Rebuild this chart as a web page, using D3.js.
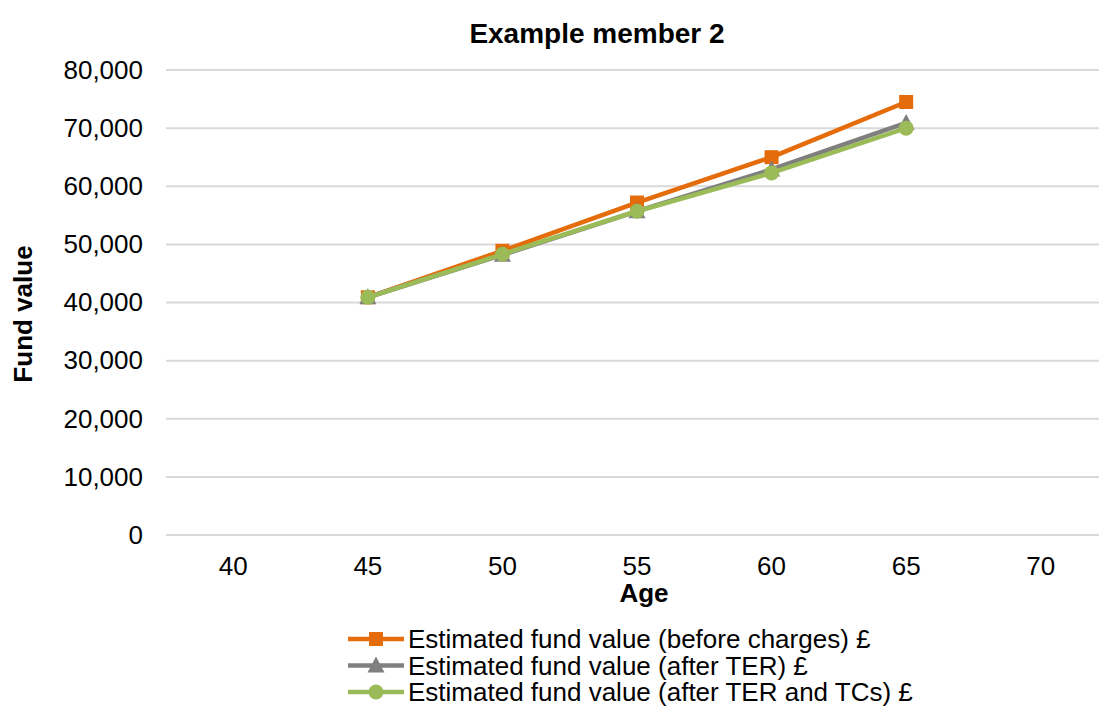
<!DOCTYPE html>
<html>
<head>
<meta charset="utf-8">
<script src="https://cdn.jsdelivr.net/npm/d3@7"></script>
<style>
  body { margin: 0; background: #fff; }
  svg { display: block; font-family: "Liberation Sans", Arial, sans-serif; }
</style>
</head>
<body>
<svg id="chart" width="1099" height="709"></svg>
<script>
// ages on the category axis
const ages = [40, 45, 50, 55, 60, 65, 70];
const dataAges = [45, 50, 55, 60, 65];
const yTicks = [0, 10000, 20000, 30000, 40000, 50000, 60000, 70000, 80000];

// series values
const beforeCharges = [40900, 48900, 57200, 65000, 74500];
const afterTER = [40900, 48200, 55700, 62900, 70900];
const afterTERandTCs = [40900, 48300, 55700, 62300, 70000];

const seriesNames = [
    'Estimated fund value (before charges) £',
    'Estimated fund value (after TER) £',
    'Estimated fund value (after TER and TCs) £'
];

let series = [
    {name: seriesNames[0], values: beforeCharges, color: '#E46C0A', marker: 'square'},
    {name: seriesNames[1], values: afterTER, color: '#7F7F7F', marker: 'triangle'},
    {name: seriesNames[2], values: afterTERandTCs, color: '#9BBB59', marker: 'circle'}
];

let svg = d3.select('#chart');

let plot = {left: 166, right: 1108, top: 70, bottom: 535};

let xScale = d3.scaleBand().domain(ages).range([plot.left, plot.right]);
let yScale = d3.scaleLinear().domain([0, 80000]).range([plot.bottom, plot.top]);
let xc = a => xScale(a) + xScale.bandwidth() / 2;

// gridlines
svg.append('g')
    .selectAll('line')
    .data(yTicks)
    .enter().append('line')
    .attr('x1', plot.left)
    .attr('x2', plot.right)
    .attr('y1', d => yScale(d))
    .attr('y2', d => yScale(d))
    .attr('stroke', '#D9D9D9')
    .attr('stroke-width', 2);

// y axis labels
let yAxis = d3.axisLeft(yScale).tickValues(yTicks).tickFormat(d3.format(',')).tickSize(0).tickPadding(0);
let yg = svg.append('g')
    .attr('transform', `translate(143,0)`)
    .call(yAxis);
yg.select('.domain').remove();
yg.selectAll('text')
    .attr('font-size', 26)
    .attr('fill', '#000')
    .attr('font-family', '"Liberation Sans", Arial, sans-serif');

// x axis labels
let xAxis = d3.axisBottom(xScale).tickSize(0).tickPadding(0);
let xg = svg.append('g')
    .attr('transform', `translate(0,${plot.bottom})`)
    .call(xAxis);
xg.select('.domain').remove();
xg.selectAll('text')
    .attr('y', 0)
    .attr('dy', 40)
    .attr('font-size', 26)
    .attr('fill', '#000')
    .attr('font-family', '"Liberation Sans", Arial, sans-serif');

// titles
svg.append('text')
    .attr('x', 597)
    .attr('y', 43)
    .attr('text-anchor', 'middle')
    .attr('font-size', 28)
    .attr('font-weight', 'bold')
    .text('Example member 2');

svg.append('text')
    .attr('x', 644)
    .attr('y', 602)
    .attr('text-anchor', 'middle')
    .attr('font-size', 26)
    .attr('font-weight', 'bold')
    .text('Age');

svg.append('text')
    .attr('transform', 'translate(32,314) rotate(-90)')
    .attr('text-anchor', 'middle')
    .attr('font-size', 26)
    .attr('font-weight', 'bold')
    .text('Fund value');

function drawMarker(g, type, x, y, color) {
    if (type === 'square') {
        g.append('rect')
            .attr('x', x - 7).attr('y', y - 7)
            .attr('width', 14).attr('height', 14)
            .attr('fill', color);
    } else if (type === 'triangle') {
        g.append('path')
            .attr('d', `M${x},${y - 9} L${x + 8.5},${y + 7} L${x - 8.5},${y + 7} Z`)
            .attr('fill', color);
    } else {
        g.append('circle')
            .attr('cx', x).attr('cy', y).attr('r', 7.5)
            .attr('fill', color);
    }
}

let line = d3.line()
    .x(d => xc(d.age))
    .y(d => yScale(d.value));

series.forEach(s => {
    let pts = dataAges.map((a, i) => ({age: a, value: s.values[i]}));
    let g = svg.append('g');
    g.append('path')
        .datum(pts)
        .attr('d', line)
        .attr('fill', 'none')
        .attr('stroke', s.color)
        .attr('stroke-width', 4.5)
        .attr('stroke-linejoin', 'round');
    pts.forEach(p => drawMarker(g, s.marker, xc(p.age), yScale(p.value), s.color));
});

// legend
let legend = svg.append('g');
series.forEach((s, i) => {
    let y = 639 + i * 26.5;
    legend.append('line')
        .attr('x1', 348).attr('x2', 404)
        .attr('y1', y).attr('y2', y)
        .attr('stroke', s.color)
        .attr('stroke-width', 4.5);
    drawMarker(legend, s.marker, 376, y, s.color);
    legend.append('text')
        .attr('x', 408)
        .attr('y', y + 9)
        .attr('font-size', 26)
        .attr('fill', '#000')
        .text(s.name);
});
</script>
</body>
</html>
